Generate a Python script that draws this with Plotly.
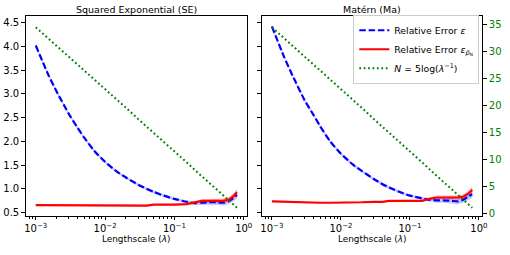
import plotly.graph_objects as go

# ---------------- data ----------------
lam = [0.001, 0.0015, 0.002, 0.003, 0.004, 0.005, 0.007, 0.01, 0.015, 0.02, 0.03, 0.04,
       0.05, 0.07, 0.1, 0.15, 0.2, 0.25, 0.3, 0.4, 0.5, 0.6, 0.7, 0.8]

# Squared Exponential (SE)
eps_se = [4.02, 3.42, 3.05, 2.58, 2.29, 2.08, 1.80, 1.57, 1.36, 1.24, 1.09, 1.00,
          0.94, 0.86, 0.79, 0.73, 0.70, 0.71, 0.72, 0.72, 0.71, 0.74, 0.80, 0.88]
eps_se_sd = [0.03, 0.03, 0.03, 0.03, 0.03, 0.03, 0.03, 0.03, 0.03, 0.03, 0.03, 0.03,
             0.03, 0.03, 0.03, 0.03, 0.04, 0.05, 0.05, 0.06, 0.06, 0.06, 0.07, 0.08]
epsp_se = [0.66, 0.66, 0.65, 0.66, 0.66, 0.66, 0.65, 0.645, 0.655, 0.66, 0.655, 0.65,
           0.67, 0.665, 0.67, 0.68, 0.72, 0.75, 0.75, 0.75, 0.75, 0.77, 0.84, 0.93]
epsp_se_sd = [0.015, 0.015, 0.015, 0.015, 0.015, 0.015, 0.015, 0.015, 0.015, 0.015, 0.015, 0.015,
              0.015, 0.015, 0.02, 0.02, 0.03, 0.04, 0.04, 0.04, 0.05, 0.05, 0.06, 0.07]

# Matern (Ma)
eps_ma = [4.42, 3.78, 3.38, 2.86, 2.56, 2.32, 2.00, 1.74, 1.51, 1.38, 1.21, 1.10,
          1.03, 0.94, 0.86, 0.80, 0.77, 0.76, 0.76, 0.75, 0.74, 0.78, 0.84, 0.89]
eps_ma_sd = [0.03, 0.03, 0.03, 0.03, 0.03, 0.03, 0.03, 0.03, 0.03, 0.03, 0.03, 0.03,
             0.03, 0.03, 0.03, 0.03, 0.04, 0.05, 0.05, 0.06, 0.06, 0.06, 0.07, 0.08]
epsp_ma = [0.74, 0.73, 0.72, 0.72, 0.71, 0.71, 0.71, 0.71, 0.72, 0.72, 0.73, 0.73,
           0.75, 0.75, 0.75, 0.75, 0.80, 0.82, 0.82, 0.82, 0.82, 0.84, 0.90, 0.98]
epsp_ma_sd = [0.015, 0.015, 0.015, 0.015, 0.015, 0.015, 0.015, 0.015, 0.015, 0.015, 0.015, 0.015,
              0.015, 0.015, 0.02, 0.02, 0.03, 0.04, 0.04, 0.04, 0.05, 0.05, 0.06, 0.07]

# N = 5 log(1/lambda)
n_vals = [34.5, 32.5, 31.1, 29.0, 27.6, 26.5, 24.8, 23.0, 21.0, 19.6, 17.5, 16.1,
          15.0, 13.3, 11.5, 9.5, 8.0, 6.9, 6.0, 4.6, 3.5, 2.6, 1.8, 1.1]

x_tickvals = [0.001, 0.01, 0.1, 1]
x_ticktext = ["10<sup>−3</sup>", "10<sup>−2</sup>", "10<sup>−1</sup>", "10<sup>0</sup>"]
y_tickvals = [0.5, 1.0, 1.5, 2.0, 2.5, 3.0, 3.5, 4.0, 4.5]
y_ticktext = ["0.5", "1.0", "1.5", "2.0", "2.5", "3.0", "3.5", "4.0", "4.5"]
n_tickvals = [0, 5, 10, 15, 20, 25, 30, 35]
titles = ["Squared Exponential (SE)", "Matérn (Ma)"]
legend_names = ["Relative Error <i>ε</i>",
                "Relative Error <i>ε</i><sub><i>p̃</i><sub>N</sub></sub>",
                "<i>N</i> = 5log(<i>λ</i><sup>−1</sup>)"]

# ---------------- figure ----------------
W, H = 510, 255
FONT = "DejaVu Sans"
BLUE, RED, GREEN = "#0000ff", "#ff0000", "#008000"

fig = go.Figure()

panels = [
    dict(eps=eps_se, eps_sd=eps_se_sd, epsp=epsp_se, epsp_sd=epsp_se_sd, x="x", y="y", y2="y2"),
    dict(eps=eps_ma, eps_sd=eps_ma_sd, epsp=epsp_ma, epsp_sd=epsp_ma_sd, x="x2", y="y3", y2="y4"),
]

for i, p in enumerate(panels):
    show = (i == 1)
    # blue band
    fig.add_trace(go.Scatter(x=lam, y=[a - s for a, s in zip(p["eps"], p["eps_sd"])],
                             xaxis=p["x"], yaxis=p["y"], mode="lines",
                             line=dict(width=0, shape="spline", smoothing=0.6),
                             showlegend=False, hoverinfo="skip"))
    fig.add_trace(go.Scatter(x=lam, y=[a + s for a, s in zip(p["eps"], p["eps_sd"])],
                             xaxis=p["x"], yaxis=p["y"], mode="lines",
                             line=dict(width=0, shape="spline", smoothing=0.6),
                             fill="tonexty", fillcolor="rgba(0,0,255,0.22)",
                             showlegend=False, hoverinfo="skip"))
    # red band
    fig.add_trace(go.Scatter(x=lam, y=[a - s for a, s in zip(p["epsp"], p["epsp_sd"])],
                             xaxis=p["x"], yaxis=p["y"], mode="lines", line=dict(width=0),
                             showlegend=False, hoverinfo="skip"))
    fig.add_trace(go.Scatter(x=lam, y=[a + s for a, s in zip(p["epsp"], p["epsp_sd"])],
                             xaxis=p["x"], yaxis=p["y"], mode="lines", line=dict(width=0),
                             fill="tonexty", fillcolor="rgba(255,0,0,0.25)",
                             showlegend=False, hoverinfo="skip"))
    # lines
    fig.add_trace(go.Scatter(x=lam, y=p["eps"], xaxis=p["x"], yaxis=p["y"], mode="lines",
                             line=dict(color=BLUE, width=2.2, dash="6.5px,2.8px",
                                       shape="spline", smoothing=0.6),
                             name=legend_names[0], showlegend=show))
    fig.add_trace(go.Scatter(x=lam, y=p["epsp"], xaxis=p["x"], yaxis=p["y"], mode="lines",
                             line=dict(color=RED, width=2.2),
                             name=legend_names[1], showlegend=show))
    fig.add_trace(go.Scatter(x=lam, y=n_vals, xaxis=p["x"], yaxis=p["y2"], mode="lines",
                             line=dict(color=GREEN, width=2, dash="1.8px,2.6px"),
                             name=legend_names[2], showlegend=show))

minor_vals = [m * 10.0 ** e for e in (-4, -3, -2, -1) for m in range(2, 10)]

L1, R1 = 25 / W, 249 / W
L2, R2 = 264 / W, 487 / W
B, T = 1 - 219 / H, 1 - 16 / H
XR = [-3.145, 0.048]
YR = [0.44, 4.645]
NR = [-0.36, 36.64]

xcommon = dict(type="log", range=XR, showline=True, mirror=True, linecolor="#000000",
               linewidth=1, ticks="outside", ticklen=3.5, tickwidth=1, tickcolor="#000000",
               tickvals=x_tickvals, ticktext=x_ticktext, showgrid=False, zeroline=False,
               tickfont=dict(family=FONT, size=10, color="#000000"),
               minor=dict(tickvals=minor_vals, ticks="outside", ticklen=2, tickwidth=0.8,
                          tickcolor="#000000", showgrid=False))
ycommon = dict(range=YR, showline=True, mirror=True, linecolor="#000000", linewidth=1,
               ticks="outside", ticklen=3.5, tickwidth=1, tickcolor="#000000",
               tickvals=y_tickvals, ticktext=y_ticktext, showgrid=False, zeroline=False,
               tickfont=dict(family=FONT, size=10, color="#000000"))

fig.update_layout(
    width=W, height=H, margin=dict(l=0, r=0, t=0, b=0),
    paper_bgcolor="white", plot_bgcolor="white",
    font=dict(family=FONT, size=10, color="#000000"),
    xaxis=dict(domain=[L1, R1], anchor="y", **xcommon),
    xaxis2=dict(domain=[L2, R2], anchor="y3", **xcommon),
    yaxis=dict(domain=[B, T], anchor="x", **ycommon),
    yaxis2=dict(overlaying="y", anchor="x", side="right", range=NR, showticklabels=False,
                ticks="", showgrid=False, zeroline=False, showline=False),
    yaxis3=dict(domain=[B, T], anchor="x2", showticklabels=False, **ycommon),
    yaxis4=dict(overlaying="y3", anchor="x2", side="right", range=NR, tickvals=n_tickvals,
                ticks="outside", ticklen=3.5, tickwidth=1, tickcolor="#000000",
                showgrid=False, zeroline=False, showline=False,
                tickfont=dict(family=FONT, size=10, color=GREEN)),
    legend=dict(x=484 / W, y=1 - 15 / H, xanchor="right", yanchor="top",
                bgcolor="white", bordercolor="#cccccc", borderwidth=1,
                font=dict(family=FONT, size=9.3, color="#000000"),
                itemwidth=30, tracegroupgap=0, traceorder="normal"),
    showlegend=True,
)

for i, (l, r) in enumerate([(L1, R1), (L2, R2)]):
    fig.add_annotation(x=(l + r) / 2, y=1 - 10 / H, xref="paper", yref="paper",
                       text=titles[i], showarrow=False, xanchor="center", yanchor="middle",
                       font=dict(family=FONT, size=9.5, color="#000000"))
    fig.add_annotation(x=(l + r) / 2, y=1 - 243 / H, xref="paper", yref="paper",
                       text="Lengthscale (<i>λ</i>)", showarrow=False, xanchor="center",
                       yanchor="middle", font=dict(family=FONT, size=8.9, color="#000000"))

fig.write_html("out.html", config={"displayModeBar": False},
               post_script="document.body.style.margin='0';")
